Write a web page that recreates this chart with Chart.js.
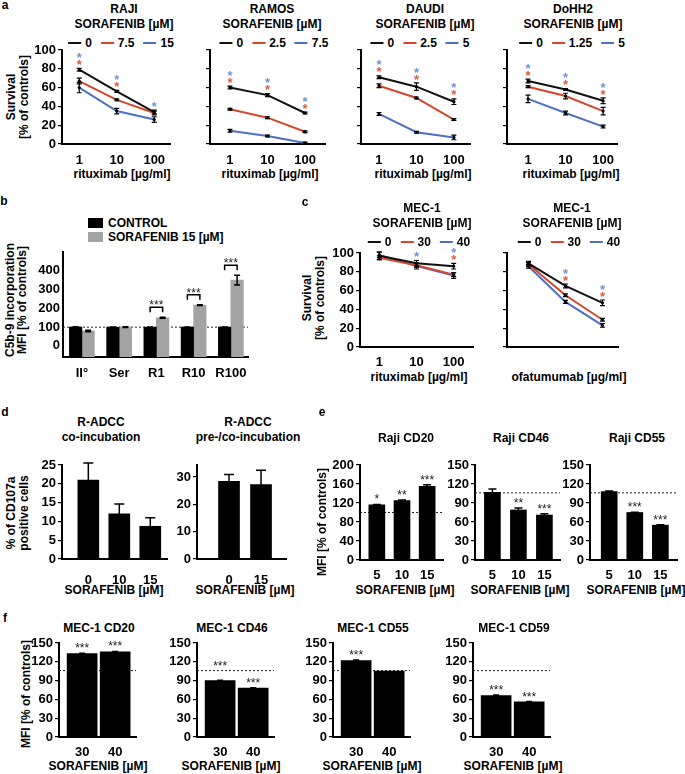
<!DOCTYPE html>
<html>
<head>
<meta charset="utf-8">
<title>Sorafenib and anti-CD20 antibodies</title>
<script src="https://cdn.jsdelivr.net/npm/chart.js@4.4.1/dist/chart.umd.min.js"></script>
<style>
  body { margin: 0; width: 685px; height: 774px; position: relative; overflow: hidden; background: #fff;
         font: bold 12px "Liberation Sans", Arial, sans-serif; color: #000; }
  canvas { position: absolute; }
  .t, .v, .lg { position: absolute; white-space: nowrap; line-height: 1; }
  .t { transform: translate(-50%, -50%); }
  .v { transform: translate(-50%, -50%) rotate(-90deg); }
  .lg { transform: translate(-50%, -50%); display: flex; align-items: center; }
  .lg i { display: inline-block; width: 13px; height: 2px; margin-right: 4px; }
  .lg i:not(:first-child) { margin-left: 9px; }
  .box { position: absolute; width: 15px; height: 10px; }
</style>
</head>
<body>
<script>
const FONT = '"Liberation Sans", Arial, sans-serif'
Chart.defaults.font.family = FONT
Chart.defaults.font.size = 13
Chart.defaults.font.weight = 'bold'
Chart.defaults.color = '#000'

const BLACK = '#111111', RED = '#d5462b', BLUE = '#4d70c0', GRAY = '#a3a3a3'
const RED_STAR = '#db5a3c', BLUE_STAR = '#7192d5'

// ---------- a: survival, rituximab + sorafenib ----------
const ritux = ['1', '10', '100']

const rajiDose = ['0', '7.5', '15']
const raji0 = [79, 56, 34],   raji0Err = [1.5, 1, 2]
const raji1 = [67, 47, 33],   raji1Err = [3, 1, 2]
const raji2 = [60, 35, 26],   raji2Err = [5.5, 3, 3]
const rajiSigRed = [1, 1, 0], rajiSigBlue = [1, 1, 1]

const ramosDose = ['0', '2.5', '7.5']
const ramos0 = [60, 52, 33],  ramos0Err = [1.5, 1.5, 1]
const ramos1 = [37, 28, 13],  ramos1Err = [1, 1, 1]
const ramos2 = [14, 8.5, 1],  ramos2Err = [1.5, 1, 1]
const ramosSigRed = [1, 1, 1], ramosSigBlue = [1, 1, 1]

const daudiDose = ['0', '2.5', '5']
const daudi0 = [71, 61, 45],   daudi0Err = [1.5, 4, 3]
const daudi1 = [62, 49, 26],   daudi1Err = [2, 1, 1]
const daudi2 = [32, 12.5, 7],  daudi2Err = [1.5, 1, 2.5]
const daudiSigRed = [1, 1, 1], daudiSigBlue = [1, 1, 1]

const dohDose = ['0', '1.25', '5']
const doh0 = [67, 58, 46],     doh0Err = [2, 1, 3]
const doh1 = [61, 51, 35],     doh1Err = [1, 3, 4]
const doh2 = [48, 33, 18.5],   doh2Err = [4, 2, 1.5]
const dohSigRed = [1, 1, 1], dohSigBlue = [1, 1, 1]

// ---------- b: C5b-9 incorporation ----------
const c5Cats = ['II°', 'Ser', 'R1', 'R10', 'R100']
const c5Control = [100, 100, 100, 100, 100], c5ControlErr = [2, 1, 1, 1, 1]
const c5Sora = [80, 100, 150, 217, 350],     c5SoraErr = [4, 2, 3, 2, 26]
const c5Sig = ['', '', '***', '***', '***']

// ---------- c: MEC-1 survival ----------
const mecDose = ['0', '30', '40']
const mecR0 = [97, 89, 86], mecR0Err = [4, 3, 3]
const mecR1 = [95, 87, 77], mecR1Err = [2, 2, 2]
const mecR2 = [98, 86, 76], mecR2Err = [3, 3, 3]
const mecRSigRed = [0, 0, 1], mecRSigBlue = [0, 1, 1]
const mecO0 = [89, 65, 47], mecO0Err = [2, 2, 3]
const mecO1 = [88, 55, 29], mecO1Err = [2, 1.5, 1.5]
const mecO2 = [86, 48, 23], mecO2Err = [2, 1.5, 2]
const mecOSigRed = [0, 1, 1], mecOSigBlue = [0, 1, 1]

// ---------- d: R-ADCC, CD107a ----------
const adccCoCats = ['0', '10', '15']
const adccCo = [21, 12, 8.7],   adccCoErr = [4.5, 2.6, 2.3]
const adccPreCats = ['0', '15']
const adccPre = [28.4, 27.2],   adccPreErr = [2.5, 5.3]

// ---------- e: Raji antigen MFI ----------
const rajiMfiCats = ['5', '10', '15']
const rajiCD20 = [116, 125, 155], rajiCD20Err = [1, 1.5, 3.5], rajiCD20Sig = ['*', '**', '***']
const rajiCD46 = [107, 79, 71],   rajiCD46Err = [5, 3, 2],     rajiCD46Sig = ['', '**', '***']
const rajiCD55 = [108, 75, 55],   rajiCD55Err = [1, 0.5, 0.5], rajiCD55Sig = ['', '***', '***']

// ---------- f: MEC-1 antigen MFI ----------
const mecMfiCats = ['30', '40']
const mecCD20 = [133, 136], mecCD20Err = [0.5, 0.5], mecCD20Sig = ['***', '***']
const mecCD46 = [90, 78],   mecCD46Err = [0.5, 0.5], mecCD46Sig = ['***', '***']
const mecCD55 = [122, 105], mecCD55Err = [1, 0],     mecCD55Sig = ['***', '']
const mecCD59 = [66, 56],   mecCD59Err = [1, 0.5],   mecCD59Sig = ['***', '***']

// ---------- helpers ----------
function place(cls, text, x, y) {
  const d = document.createElement('div')
  d.className = cls
  d.textContent = text
  d.style.left = x + 'px'
  d.style.top = y + 'px'
  document.body.appendChild(d)
  return d
}
const txt = (s, x, y) => place('t', s, x, y)
const vtxt = (s, x, y) => place('v', s, x, y)

function lineLegend(x, y, labels) {
  const d = place('lg', '', x, y)
  const colors = [BLACK, RED, BLUE]
  labels.forEach((l, i) => {
    const sw = document.createElement('i')
    sw.style.background = colors[i]
    const t = document.createElement('span')
    t.textContent = l
    d.append(sw, t)
  })
}

const lineSet = (values, errs, color) => ({
  data: values.map((v, i) => ({ x: i, y: v })),
  err: errs,
  borderColor: color,
  borderWidth: 2,
  pointRadius: 1.6,
  pointBorderWidth: 0,
  pointBackgroundColor: '#000'
})

const barSet = (values, errs, color, thick, base) => ({
  data: values.map((v, i) => ({ x: i, y: v })),
  err: errs,
  backgroundColor: color,
  borderWidth: 0,
  barThickness: thick,
  base: base
})

// extra marks: error bars, stars, reference line, brackets
function deco(cfg) {
  const topAt = (chart, i) => {
    let top = Infinity
    chart.data.datasets.forEach(ds => {
      top = Math.min(top, chart.scales.y.getPixelForValue(ds.data[i].y + (ds.err[i] || 0)))
    })
    return top
  }
  return {
    id: 'deco',
    beforeDatasetsDraw(chart) {
      if (cfg.ref == null) return
      const { ctx, chartArea: a, scales: { y } } = chart
      const py = y.getPixelForValue(cfg.ref)
      ctx.save()
      ctx.strokeStyle = '#222'
      ctx.lineWidth = 1
      ctx.setLineDash([2, 2])
      ctx.beginPath()
      ctx.moveTo(a.left, py)
      ctx.lineTo(a.right, py)
      ctx.stroke()
      ctx.restore()
    },
    afterDatasetsDraw(chart) {
      const { ctx, scales: { y } } = chart
      ctx.save()
      ctx.strokeStyle = '#000'
      ctx.lineWidth = cfg.type === 'line' ? 1.2 : 1.5
      chart.data.datasets.forEach((ds, di) => {
        const meta = chart.getDatasetMeta(di)
        ds.err.forEach((e, i) => {
          if (!e) return
          const x = meta.data[i].x, v = ds.data[i].y
          const hi = y.getPixelForValue(v + e), lo = y.getPixelForValue(v - e)
          ctx.beginPath()
          ctx.moveTo(x, lo); ctx.lineTo(x, hi)
          ctx.moveTo(x - cfg.cap, hi); ctx.lineTo(x + cfg.cap, hi)
          ctx.moveTo(x - cfg.cap, lo); ctx.lineTo(x + cfg.cap, lo)
          ctx.stroke()
        })
      })

      ctx.textAlign = 'center'
      ctx.textBaseline = 'alphabetic'

      // coloured stars above the line points
      if (cfg.sigRed) {
        ctx.font = 'bold 13px ' + FONT
        const meta = chart.getDatasetMeta(0)
        cfg.sigRed.forEach((r, i) => {
          const b = cfg.sigBlue[i]
          if (!r && !b) return
          const x = meta.data[i].x
          let c = topAt(chart, i) - 7
          if (r) { ctx.fillStyle = RED_STAR; ctx.fillText('*', x, c + 7.6); c -= 7 }
          if (b) { ctx.fillStyle = BLUE_STAR; ctx.fillText('*', x, c + 7.6) }
        })
      }

      // stars above single bars
      if (cfg.sig) {
        ctx.font = '12px ' + FONT
        ctx.fillStyle = '#222'
        const meta = chart.getDatasetMeta(0)
        cfg.sig.forEach((s, i) => {
          if (!s) return
          let top = topAt(chart, i)
          if (cfg.ref != null) {
            const r = y.getPixelForValue(cfg.ref)
            if (r < top && top - r < 14) top = r
          }
          ctx.fillText(s, meta.data[i].x, top - 1)
        })
      }

      // brackets between paired bars
      if (cfg.bracket) {
        ctx.font = '12px ' + FONT
        ctx.fillStyle = '#222'
        const m0 = chart.getDatasetMeta(0), m1 = chart.getDatasetMeta(1)
        cfg.bracket.forEach((s, i) => {
          if (!s) return
          const x0 = m0.data[i].x, x1 = m1.data[i].x
          const yb = topAt(chart, i) - 5, yt = yb - 5
          ctx.beginPath()
          ctx.moveTo(x0, yb); ctx.lineTo(x0, yt); ctx.lineTo(x1, yt); ctx.lineTo(x1, yb)
          ctx.stroke()
          ctx.fillText(s, (x0 + x1) / 2, yt + 2)
        })
      }
      ctx.restore()
    }
  }
}

const PL = 44, PT = 14, PR = 14, PB = 30

function makePlot(box, cfg) {
  const ax = Math.round(box.ax), ae = Math.round(box.ae)
  const top = Math.round(box.top), bot = Math.round(box.bot)
  const W = ae - ax + PL + PR, H = bot - top + PT + PB
  const cv = document.createElement('canvas')
  cv.width = W
  cv.height = H
  cv.style.left = (ax - PL) + 'px'
  cv.style.top = (top - PT) + 'px'
  cv.style.width = W + 'px'
  cv.style.height = H + 'px'
  document.body.appendChild(cv)
  const cats = cfg.cats
  const tick = cfg.tick === undefined ? 4 : cfg.tick
  const maxLabel = cfg.maxLabel === undefined ? Infinity : cfg.maxLabel
  return new Chart(cv, {
    type: cfg.type,
    data: { datasets: cfg.datasets },
    options: {
      responsive: false,
      maintainAspectRatio: false,
      animation: false,
      events: [],
      layout: { padding: { top: PT, right: PR, bottom: 0, left: 0 } },
      plugins: { legend: { display: false }, tooltip: { enabled: false } },
      scales: {
        x: {
          type: 'linear',
          offset: false,
          min: cfg.xr[0],
          max: cfg.xr[1],
          afterFit: s => { s.height = PB },
          grid: { display: false, offset: false },
          border: { color: '#000', width: 2 },
          ticks: {
            stepSize: 1,
            includeBounds: false,
            autoSkip: false,
            maxRotation: 0,
            padding: cfg.xpad,
            callback: v => (Number.isInteger(v) && cats[v] !== undefined) ? cats[v] : ''
          }
        },
        y: {
          type: 'linear',
          min: cfg.yr[0],
          max: cfg.yr[1],
          afterFit: s => { s.width = PL },
          grid: { drawOnChartArea: false, drawTicks: tick > 0, tickLength: tick, color: '#000', lineWidth: 1.2 },
          border: { color: '#000', width: 2 },
          ticks: {
            stepSize: cfg.step,
            includeBounds: false,
            padding: tick > 0 ? 2 : 3,
            callback: v => (cfg.noLabels || v < 0 || v > maxLabel) ? '' : v
          }
        }
      }
    },
    plugins: [deco(cfg)]
  })
}

// ---------- panel a ----------
txt('a', 5, 5)
vtxt('Survival', 10.5, 97)
vtxt('[% of controls]', 23.5, 97)

const aPanels = [
  { name: 'RAJI', cx: 124, lx: 121, ax: 62, ae: 170, xr: [-0.46, 2.42], dose: rajiDose,
    s: [[raji0, raji0Err], [raji1, raji1Err], [raji2, raji2Err]], red: rajiSigRed, blue: rajiSigBlue },
  { name: 'RAMOS', cx: 272, lx: 274, ax: 210, ae: 325, xr: [-0.53, 2.53], dose: ramosDose,
    s: [[ramos0, ramos0Err], [ramos1, ramos1Err], [ramos2, ramos2Err]], red: ramosSigRed, blue: ramosSigBlue },
  { name: 'DAUDI', cx: 425, lx: 420, ax: 361, ae: 470, xr: [-0.48, 2.43], dose: daudiDose,
    s: [[daudi0, daudi0Err], [daudi1, daudi1Err], [daudi2, daudi2Err]], red: daudiSigRed, blue: daudiSigBlue },
  { name: 'DoHH2', cx: 573, lx: 572, ax: 507, ae: 617, xr: [-0.56, 2.37], dose: dohDose,
    s: [[doh0, doh0Err], [doh1, doh1Err], [doh2, doh2Err]], red: dohSigRed, blue: dohSigBlue }
]
aPanels.forEach((p, k) => {
  txt(p.name, p.cx, 9)
  txt('SORAFENIB [µM]', p.cx, 24)
  lineLegend(p.lx, 43, p.dose)
  txt('rituximab [µg/ml]', p.cx - 2, 174)
  makePlot({ ax: p.ax, ae: p.ae, top: 49.5, bot: 144 }, {
    type: 'line', cats: ritux, xr: p.xr, yr: [0, 100], step: 20, cap: 2.5, noLabels: k > 0, xpad: 1,
    datasets: [lineSet(p.s[0][0], p.s[0][1], BLACK), lineSet(p.s[1][0], p.s[1][1], RED), lineSet(p.s[2][0], p.s[2][1], BLUE)],
    sigRed: p.red, sigBlue: p.blue
  })
})

// ---------- panel b ----------
txt('b', 4, 201)
vtxt('C5b-9 incorporation', 10, 300)
vtxt('MFI [% of controls]', 22, 300)
const lb1 = place('box', '', 88, 218); lb1.style.background = '#000'
const lb2 = place('box', '', 88, 232); lb2.style.background = GRAY
place('t', 'CONTROL', 108, 223).style.transform = 'translate(0,-50%)'
place('t', 'SORAFENIB 15 [µM]', 108, 237).style.transform = 'translate(0,-50%)'
makePlot({ ax: 63, ae: 248, top: 252, bot: 357 }, {
  type: 'bar', cats: c5Cats, xr: [-0.507, 4.46], yr: [-59, 500], step: 100, cap: 3, tick: 0, maxLabel: 400, xpad: 1,
  datasets: [barSet(c5Control, c5ControlErr, '#000', 12.5, -59), barSet(c5Sora, c5SoraErr, GRAY, 12.5, -59)],
  ref: 100, bracket: c5Sig
})

// ---------- panel c ----------
txt('c', 305, 202)
vtxt('Survival', 307, 298)
vtxt('[% of controls]', 320, 298)
const cPanels = [
  { cx: 422, lx: 419, ax: 360, ae: 473, xr: [-0.52, 2.52], xlab: 'rituximab [µg/ml]',
    s: [[mecR0, mecR0Err], [mecR1, mecR1Err], [mecR2, mecR2Err]], red: mecRSigRed, blue: mecRSigBlue },
  { cx: 572, lx: 569, ax: 507, ae: 618, xr: [-0.58, 2.42], xlab: 'ofatumumab [µg/ml]',
    s: [[mecO0, mecO0Err], [mecO1, mecO1Err], [mecO2, mecO2Err]], red: mecOSigRed, blue: mecOSigBlue }
]
cPanels.forEach((p, k) => {
  txt('MEC-1', p.cx, 208)
  txt('SORAFENIB [µM]', p.cx, 223)
  lineLegend(p.lx, 242, mecDose)
  txt(p.xlab, p.cx - 3, 377)
  makePlot({ ax: p.ax, ae: p.ae, top: 253.3, bot: 346.7 }, {
    type: 'line', cats: ritux, xr: p.xr, yr: [0, 100], step: 20, cap: 2.5, noLabels: k > 0, xpad: 0,
    datasets: [lineSet(p.s[0][0], p.s[0][1], BLACK), lineSet(p.s[1][0], p.s[1][1], RED), lineSet(p.s[2][0], p.s[2][1], BLUE)],
    sigRed: p.red, sigBlue: p.blue
  })
})

// ---------- panel d ----------
txt('d', 5, 412)
vtxt('% of CD107a', 11, 513)
vtxt('positive cells', 23.5, 513)
txt('R-ADCC', 101, 422)
txt('co-incubation', 101, 437)
txt('R-ADCC', 248, 422)
txt('pre-/co-incubation', 248, 437)
txt('SORAFENIB [µM]', 114, 590)
txt('SORAFENIB [µM]', 245, 590)
makePlot({ ax: 62, ae: 167, top: 464.7, bot: 559.3 }, {
  type: 'bar', cats: adccCoCats, xr: [-0.85, 2.54], yr: [0, 25], step: 5, cap: 5, xpad: 6,
  datasets: [barSet(adccCo, adccCoErr, '#000', 21)]
})
makePlot({ ax: 197, ae: 286, top: 465, bot: 559.3 }, {
  type: 'bar', cats: adccPreCats, xr: [-1.0, 1.78], yr: [0, 34.4], step: 10, cap: 5, xpad: 6,
  datasets: [barSet(adccPre, adccPreErr, '#000', 21)]
})

// ---------- panel e ----------
txt('e', 322, 412)
vtxt('MFI [% of controls]', 322, 522)
const ePanels = [
  { title: 'Raji CD20', cx: 406, ax: 360, ae: 443, xr: [-0.67, 2.63], yr: [0, 200], step: 40, v: rajiCD20, e: rajiCD20Err, sig: rajiCD20Sig, ref: 100 },
  { title: 'Raji CD46', cx: 521, ax: 475, ae: 560, xr: [-0.67, 2.6], yr: [0, 150], step: 30, v: rajiCD46, e: rajiCD46Err, sig: rajiCD46Sig, ref: 106 },
  { title: 'Raji CD55', cx: 637, ax: 590, ae: 677, xr: [-0.75, 2.65], yr: [0, 150], step: 30, v: rajiCD55, e: rajiCD55Err, sig: rajiCD55Sig, ref: 106 }
]
ePanels.forEach(p => {
  txt(p.title, p.cx, 438)
  txt('SORAFENIB [µM]', p.cx - 1, 590)
  makePlot({ ax: p.ax, ae: p.ae, top: 465, bot: 560 }, {
    type: 'bar', cats: rajiMfiCats, xr: p.xr, yr: p.yr, step: p.step, cap: 4, xpad: 0,
    datasets: [barSet(p.v, p.e, '#000', 16)], sig: p.sig, ref: p.ref
  })
})

// ---------- panel f ----------
txt('f', 5, 618)
vtxt('MFI [% of controls]', 26, 694)
const fPanels = [
  { title: 'MEC-1 CD20', cx: 99, ax: 59, v: mecCD20, e: mecCD20Err, sig: mecCD20Sig },
  { title: 'MEC-1 CD46', cx: 232, ax: 197, v: mecCD46, e: mecCD46Err, sig: mecCD46Sig },
  { title: 'MEC-1 CD55', cx: 373, ax: 333, v: mecCD55, e: mecCD55Err, sig: mecCD55Sig },
  { title: 'MEC-1 CD59', cx: 514, ax: 473, v: mecCD59, e: mecCD59Err, sig: mecCD59Sig }
]
fPanels.forEach(p => {
  txt(p.title, p.cx, 628)
  txt('SORAFENIB [µM]', p.cx - 1, 766)
  makePlot({ ax: p.ax, ae: p.ax + 77, top: 643.3, bot: 736.7 }, {
    type: 'bar', cats: mecMfiCats, xr: [-0.7, 1.63], yr: [0, 150], step: 30, cap: 3, xpad: 0,
    datasets: [barSet(p.v, p.e, '#000', 30)], sig: p.sig, ref: 106
  })
})
</script>
</body>
</html>
